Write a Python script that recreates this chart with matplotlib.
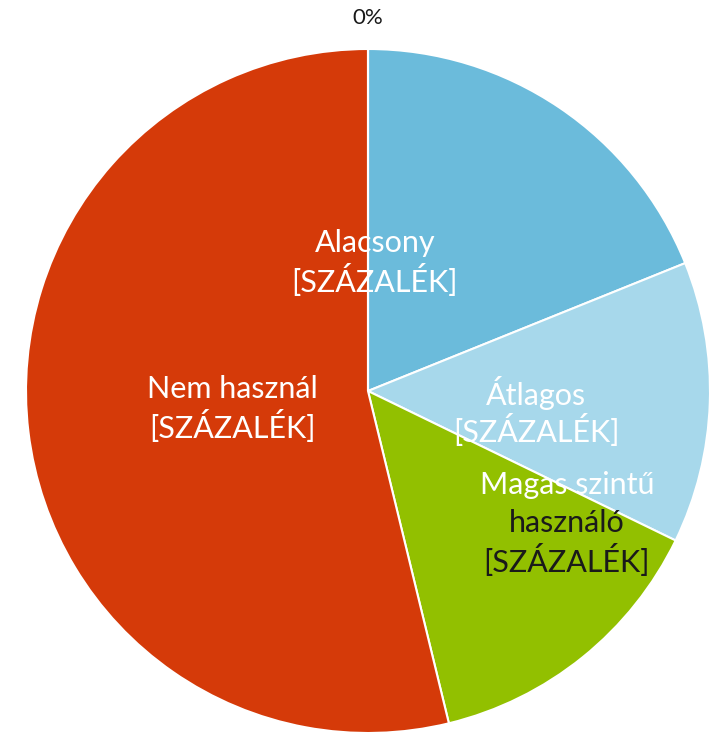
import matplotlib
matplotlib.use("Agg")
import matplotlib.pyplot as plt
import numpy as np

categories = ["Alacsony", "Átlagos", "Magas szintű használó", "Nem használ", ""]
values = [18.9, 13.3, 14.0, 53.8, 0.0]
colors = ["#6BBBDB", "#A7D8EB", "#92C000", "#D53A09", "#A5A5A5"]

plt.rcParams['font.family'] = ['Lato', 'DejaVu Sans']

fig = plt.figure(figsize=(7.10, 7.32), dpi=100)
R = 342
cx, cy = 368, 732 - 391
ax = fig.add_axes([(cx - R) / 710, (cy - R) / 732, 2 * R / 710, 2 * R / 732])

ax.pie(values, colors=colors, startangle=90, counterclock=False, radius=1,
       wedgeprops=dict(edgecolor='white', linewidth=1.5))
ax.set_xlim(-1, 1)
ax.set_ylim(-1, 1)
ax.set_aspect('equal')
ax.axis('off')

fs = 22
def px(x, y):
    return ((x - 368) / R, (391 - y) / R)

lines = [
    ("Alacsony", 375, 243, 'white'),
    ("[SZÁZALÉK]", 375, 281, 'white'),
    ("Átlagos", 536, 393, 'white'),
    ("[SZÁZALÉK]", 536, 431, 'white'),
    ("Magas szintű", 567, 485, 'white'),
    ("használó", 567, 523, '#1A1A1A'),
    ("[SZÁZALÉK]", 567, 561, '#1A1A1A'),
    ("Nem használ", 232, 389, 'white'),
    ("[SZÁZALÉK]", 232, 427, 'white'),
]
for t, x, y, c in lines:
    X, Y = px(x, y)
    ax.text(X, Y, t, ha='center', va='center', fontsize=fs, color=c,
            fontweight='normal')

X, Y = px(368, 18)
ax.text(X, Y, "0%", ha='center', va='center', fontsize=16, color='#1A1A1A',
        clip_on=False)

fig.savefig("out.png", dpi=100)
